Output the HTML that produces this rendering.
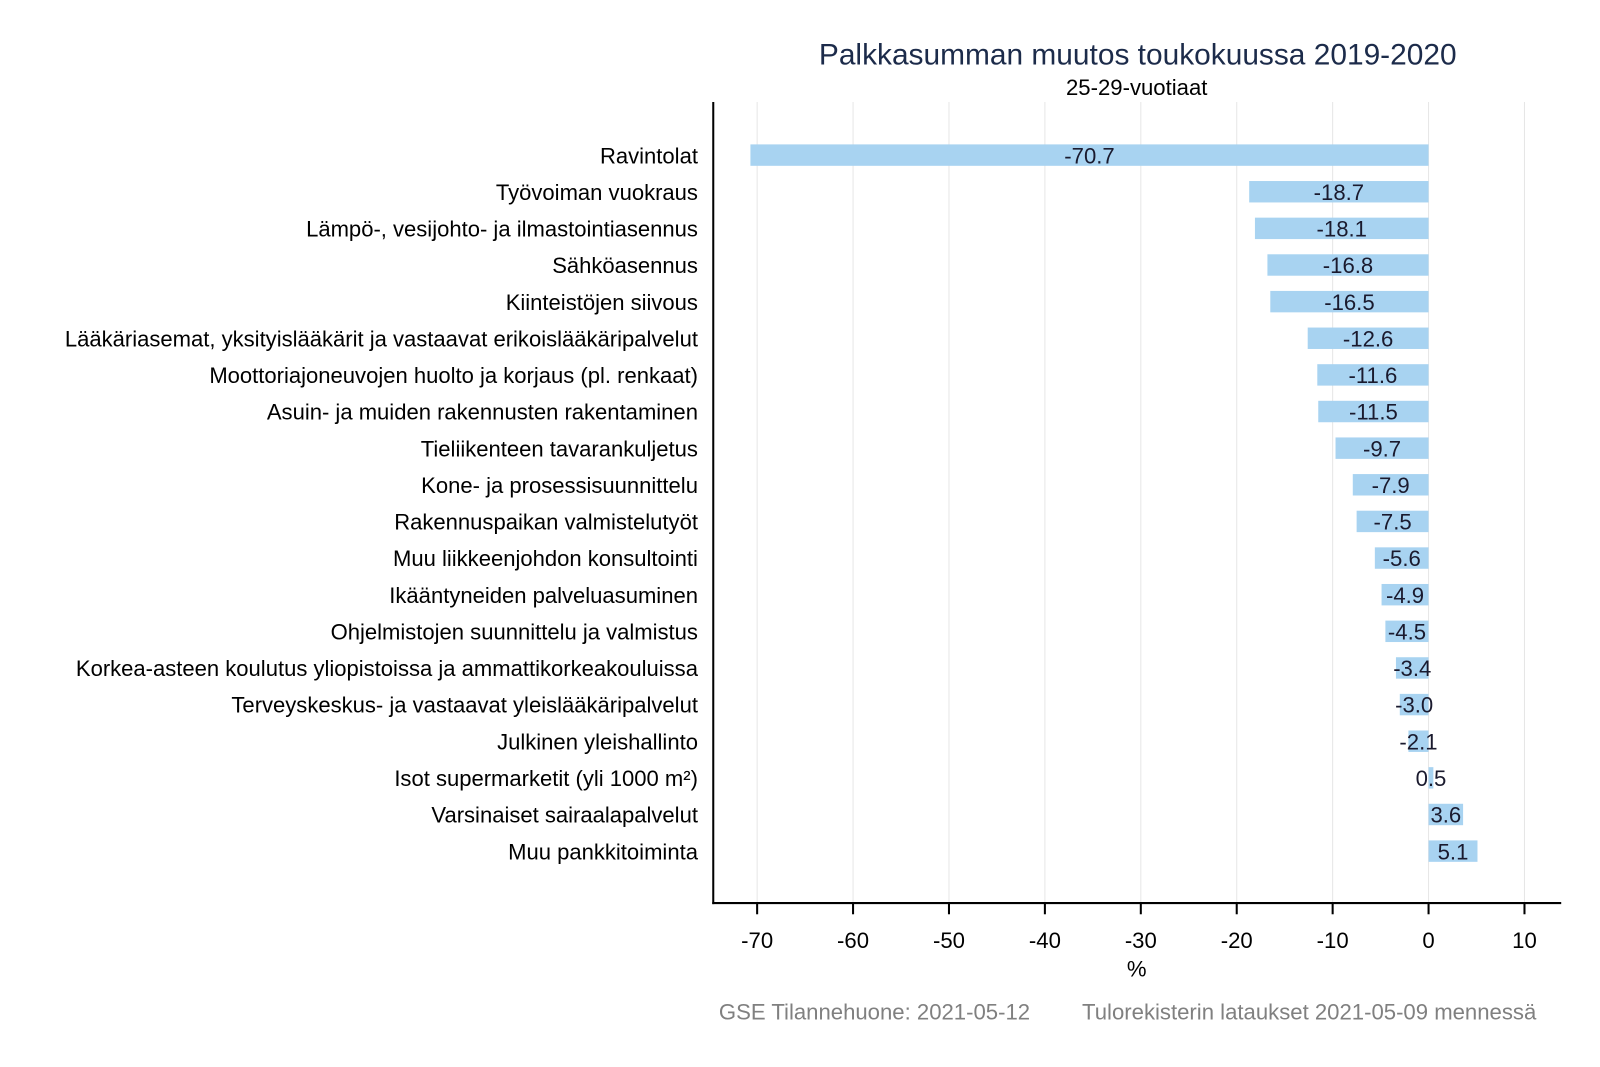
<!DOCTYPE html>
<html><head><meta charset="utf-8"><style>
html,body{margin:0;padding:0;background:#fff;}
svg{display:block;font-family:"Liberation Sans",Arial,sans-serif;}
</style></head><body>
<svg width="1600" height="1067" viewBox="0 0 1600 1067" xmlns="http://www.w3.org/2000/svg">
<rect width="1600" height="1067" fill="#fff"/>
<g transform="scale(1.0204)">
<text x="1115" y="63" font-size="29.3" fill="#1c2b4a" text-anchor="middle">Palkkasumman muutos toukokuussa 2019-2020</text>
<text x="1114" y="93" font-size="21.7" fill="#000" text-anchor="middle">25-29-vuotiaat</text>
<g stroke="#e6e6e6" stroke-width="1">
<line x1="742" y1="100" x2="742" y2="885"/><line x1="836" y1="100" x2="836" y2="885"/>
<line x1="930" y1="100" x2="930" y2="885"/><line x1="1024" y1="100" x2="1024" y2="885"/>
<line x1="1118" y1="100" x2="1118" y2="885"/><line x1="1212" y1="100" x2="1212" y2="885"/>
<line x1="1306" y1="100" x2="1306" y2="885"/><line x1="1400" y1="100" x2="1400" y2="885"/>
<line x1="1494" y1="100" x2="1494" y2="885"/>
</g>
<g id="bars" fill="#a8d3f1"></g>
<g id="labs" font-size="21.6" fill="#000" text-anchor="end"></g>
<g id="vals" font-size="21.7" fill="#1a1a2e" text-anchor="middle"></g>
<line x1="699" y1="100" x2="699" y2="886" stroke="#000" stroke-width="2"/>
<line x1="698" y1="885" x2="1530" y2="885" stroke="#000" stroke-width="2"/>
<g stroke="#000" stroke-width="2">
<line x1="742" y1="885" x2="742" y2="896"/><line x1="836" y1="885" x2="836" y2="896"/>
<line x1="930" y1="885" x2="930" y2="896"/><line x1="1024" y1="885" x2="1024" y2="896"/>
<line x1="1118" y1="885" x2="1118" y2="896"/><line x1="1212" y1="885" x2="1212" y2="896"/>
<line x1="1306" y1="885" x2="1306" y2="896"/><line x1="1400" y1="885" x2="1400" y2="896"/>
<line x1="1494" y1="885" x2="1494" y2="896"/>
</g>
<g font-size="21.7" fill="#000" text-anchor="middle">
<text x="742" y="929">-70</text><text x="836" y="929">-60</text><text x="930" y="929">-50</text>
<text x="1024" y="929">-40</text><text x="1118" y="929">-30</text><text x="1212" y="929">-20</text>
<text x="1306" y="929">-10</text><text x="1400" y="929">0</text><text x="1494" y="929">10</text>
<text x="1114" y="957">%</text>
</g>
<text x="857" y="999" font-size="21.7" fill="#808080" text-anchor="middle">GSE Tilannehuone: 2021-05-12</text>
<text x="1283" y="999" font-size="21.7" fill="#808080" text-anchor="middle">Tulorekisterin lataukset 2021-05-09 mennessä</text>
</g>
<script>
var d=[["Ravintolat",-70.7],["Työvoiman vuokraus",-18.7],["Lämpö-, vesijohto- ja ilmastointiasennus",-18.1],["Sähköasennus",-16.8],["Kiinteistöjen siivous",-16.5],["Lääkäriasemat, yksityislääkärit ja vastaavat erikoislääkäripalvelut",-12.6],["Moottoriajoneuvojen huolto ja korjaus (pl. renkaat)",-11.6],["Asuin- ja muiden rakennusten rakentaminen",-11.5],["Tieliikenteen tavarankuljetus",-9.7],["Kone- ja prosessisuunnittelu",-7.9],["Rakennuspaikan valmistelutyöt",-7.5],["Muu liikkeenjohdon konsultointi",-5.6],["Ikääntyneiden palveluasuminen",-4.9],["Ohjelmistojen suunnittelu ja valmistus",-4.5],["Korkea-asteen koulutus yliopistoissa ja ammattikorkeakouluissa",-3.4],["Terveyskeskus- ja vastaavat yleislääkäripalvelut",-3.0],["Julkinen yleishallinto",-2.1],["Isot supermarketit (yli 1000 m²)",0.5],["Varsinaiset sairaalapalvelut",3.6],["Muu pankkitoiminta",5.1]];
var ns="http://www.w3.org/2000/svg",B=document.getElementById("bars"),L=document.getElementById("labs"),V=document.getElementById("vals");
d.forEach(function(r,i){var y=152+i*35.9,x0=1400,x1=1400+r[1]*9.4;
var rc=document.createElementNS(ns,"rect");rc.setAttribute("x",Math.min(x0,x1));rc.setAttribute("y",y-10.5);rc.setAttribute("width",Math.abs(x1-x0));rc.setAttribute("height",21);B.appendChild(rc);
var t=document.createElementNS(ns,"text");t.setAttribute("x",684);t.setAttribute("y",y+8);t.textContent=r[0];L.appendChild(t);
var v=document.createElementNS(ns,"text");v.setAttribute("x",(x0+x1)/2);v.setAttribute("y",y+8);v.textContent=r[1].toFixed(1);V.appendChild(v);});
</script>
</svg>
</body></html>
